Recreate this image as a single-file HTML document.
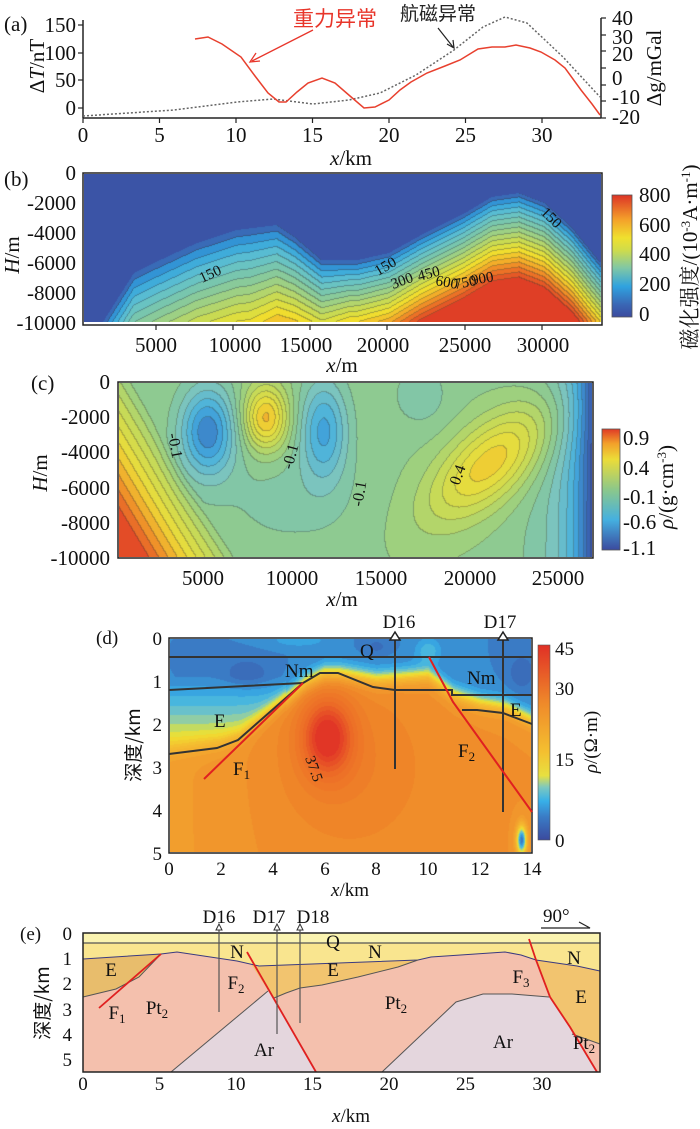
<!DOCTYPE html>
<html><head><meta charset="utf-8"><style>
body{margin:0;background:#fff;}
#w{position:relative;width:700px;height:1129px;overflow:hidden;background:#fff;}
canvas{position:absolute;}
svg{position:absolute;left:0;top:0;}
text{font-family:"Liberation Serif","Noto Serif CJK SC","Noto Sans CJK SC",serif;fill:#111;}
.t{font-size:21px;}
.s{font-size:19px;}
</style></head><body><div id="w">
<svg width="700" height="1129" viewBox="0 0 700 1129" id="sv">
<defs>
<linearGradient id="gb" x1="0" y1="1" x2="0" y2="0">
<stop offset="0" stop-color="#3b4a9e"/><stop offset="0.1" stop-color="#3a66b4"/><stop offset="0.25" stop-color="#2fa2df"/><stop offset="0.4" stop-color="#7fc7a6"/><stop offset="0.55" stop-color="#d0dc4a"/><stop offset="0.65" stop-color="#f0e02e"/><stop offset="0.8" stop-color="#f4a02a"/><stop offset="1" stop-color="#dc3326"/></linearGradient>
<linearGradient id="gc" x1="0" y1="1" x2="0" y2="0">
<stop offset="0" stop-color="#3b4a9e"/><stop offset="0.25" stop-color="#45b0e0"/><stop offset="0.5" stop-color="#8cc88a"/><stop offset="0.75" stop-color="#ecdc38"/><stop offset="0.88" stop-color="#f2a02a"/><stop offset="1" stop-color="#e03a26"/></linearGradient>
<linearGradient id="gd" x1="0" y1="1" x2="0" y2="0">
<stop offset="0" stop-color="#3b4a9e"/><stop offset="0.12" stop-color="#3a7cc6"/><stop offset="0.2" stop-color="#38b0e8"/><stop offset="0.27" stop-color="#7cc8c0"/><stop offset="0.33" stop-color="#e8e040"/><stop offset="0.45" stop-color="#f4c030"/><stop offset="0.7" stop-color="#ef8a2a"/><stop offset="1" stop-color="#e03026"/></linearGradient>
</defs>

<!-- Panel (a) -->
<text x="4" y="31" class="t">(a)</text>
<line x1="83" y1="20" x2="83" y2="118" stroke="#222" stroke-width="1.5"/>
<line x1="83" y1="118" x2="601" y2="118" stroke="#222" stroke-width="1.5"/>
<line x1="601" y1="18" x2="601" y2="118" stroke="#222" stroke-width="1.5"/>
<g stroke="#222" stroke-width="1.2">
<line x1="78" y1="25" x2="83" y2="25"/><line x1="78" y1="53" x2="83" y2="53"/><line x1="78" y1="80" x2="83" y2="80"/><line x1="78" y1="108" x2="83" y2="108"/>
<line x1="601" y1="18" x2="606" y2="18"/><line x1="601" y1="35" x2="606" y2="35"/><line x1="601" y1="51" x2="606" y2="51"/><line x1="601" y1="68" x2="606" y2="68"/><line x1="601" y1="85" x2="606" y2="85"/><line x1="601" y1="101" x2="606" y2="101"/><line x1="601" y1="118" x2="606" y2="118"/>
<line x1="83" y1="118" x2="83" y2="123"/><line x1="159.5" y1="118" x2="159.5" y2="123"/><line x1="236" y1="118" x2="236" y2="123"/><line x1="312.5" y1="118" x2="312.5" y2="123"/><line x1="389" y1="118" x2="389" y2="123"/><line x1="465.5" y1="118" x2="465.5" y2="123"/><line x1="542" y1="118" x2="542" y2="123"/>
</g>
<g class="t" text-anchor="end"><text x="76" y="32">150</text><text x="76" y="60">100</text><text x="76" y="87">50</text><text x="76" y="115">0</text></g>
<g class="t"><text x="612" y="25">40</text><text x="612" y="44">30</text><text x="612" y="61">20</text><text x="612" y="85">0</text><text x="612" y="104">-10</text><text x="612" y="124">-20</text></g>
<g class="t" text-anchor="middle"><text x="83" y="142">0</text><text x="159.5" y="142">5</text><text x="236" y="142">10</text><text x="312.5" y="142">15</text><text x="389" y="142">20</text><text x="465.5" y="142">25</text><text x="542" y="142">30</text>
<text x="351" y="165"><tspan font-style="italic">x</tspan>/km</text></g>
<text transform="translate(44,66) rotate(-90)" class="t" text-anchor="middle">Δ<tspan font-style="italic">T</tspan>/nT</text>
<text transform="translate(661,68) rotate(-90)" class="t" text-anchor="middle">Δg/mGal</text>
<polyline fill="none" stroke="#666" stroke-width="1.5" stroke-dasharray="2,2" points="83,116 174,110 237,102 273,99 313,104 349,100 380,93 416,75 454,50 483,27 505,17 527,23 563,57 600,97"/>
<polyline fill="none" stroke="#e8402e" stroke-width="1.5" points="195,39 208,37 222,44 241,57 255,76 268,93 279,102 286,102 297,92 308,83 322,78 335,83 350,96 364,108 375,107 389,100 400,90 411,82 427,73 445,66 460,60 478,49 492,47 505,47 516,45 530,48 541,52 555,60 565,68 581,90 592,104 600,115"/>
<text x="293" y="26" style="font-size:21px;fill:#e8352a;font-family:'Noto Sans CJK SC',sans-serif">重力异常</text>
<text x="400" y="20" style="font-size:19px;fill:#222;font-family:'Noto Sans CJK SC',sans-serif">航磁异常</text>
<line x1="313" y1="30" x2="252" y2="61" stroke="#e8352a" stroke-width="1.3"/>
<polyline points="256,53 250,62 260,61" fill="none" stroke="#e8352a" stroke-width="1.3"/>
<line x1="438" y1="28" x2="453" y2="47" stroke="#222" stroke-width="1.2"/>
<polyline points="447,44 454,48 453,40" fill="none" stroke="#222" stroke-width="1.2"/>

<!-- Panel (b) -->
<text x="4" y="186" class="t">(b)</text>
<rect x="83" y="173" width="519" height="152" fill="none" stroke="#222" stroke-width="1.5"/>
<g class="t" text-anchor="end"><text x="76" y="180">0</text><text x="76" y="210">-2000</text><text x="76" y="240">-4000</text><text x="76" y="270">-6000</text><text x="76" y="300">-8000</text><text x="76" y="330">-10000</text></g>
<g stroke="#222" stroke-width="1.2"><line x1="156" y1="325" x2="156" y2="330"/><line x1="233" y1="325" x2="233" y2="330"/><line x1="310" y1="325" x2="310" y2="330"/><line x1="387" y1="325" x2="387" y2="330"/><line x1="465" y1="325" x2="465" y2="330"/><line x1="542" y1="325" x2="542" y2="330"/></g>
<g class="t" text-anchor="middle"><text x="156" y="352">5000</text><text x="235" y="352">10000</text><text x="306" y="352">15000</text><text x="383" y="352">20000</text><text x="465" y="352">25000</text><text x="543" y="352">30000</text>
<text x="342" y="372"><tspan font-style="italic">x</tspan>/m</text></g>
<text transform="translate(19,255) rotate(-90)" class="t" text-anchor="middle"><tspan font-style="italic">H</tspan>/m</text>
<rect x="612" y="195" width="20" height="122" fill="url(#gb)" stroke="#555" stroke-width="0.8"/>
<g class="t"><text x="639" y="202">800</text><text x="639" y="232">600</text><text x="639" y="261">400</text><text x="639" y="291">200</text><text x="639" y="321">0</text></g>
<text transform="translate(697,257) rotate(-90)" text-anchor="middle" style="font-size:21px">磁化强度/(10<tspan dy="-7" font-size="13">-3</tspan><tspan dy="7">A·m</tspan><tspan dy="-7" font-size="13">-1</tspan><tspan dy="7">)</tspan></text>
<g style="font-size:15px" fill="#111">
<text transform="translate(202,283) rotate(-25)">150</text>
<text transform="translate(378,276) rotate(-30)">150</text>
<text transform="translate(393,289) rotate(-20)">300</text>
<text transform="translate(419,281) rotate(-15)">450</text>
<text transform="translate(435,285) rotate(10)">600</text>
<text transform="translate(455,289) rotate(-10)">750</text>
<text transform="translate(472,285) rotate(-10)">900</text>
<text transform="translate(540,213) rotate(45)">150</text></g>

<!-- Panel (c) -->
<text x="31" y="390" class="t">(c)</text>
<rect x="118" y="382" width="475" height="176" fill="none" stroke="#222" stroke-width="1.5"/>
<g class="t" text-anchor="end"><text x="110" y="389">0</text><text x="110" y="424">-2000</text><text x="110" y="459">-4000</text><text x="110" y="495">-6000</text><text x="110" y="530">-8000</text><text x="110" y="565">-10000</text></g>
<g class="t" text-anchor="middle"><text x="203" y="585">5000</text><text x="292" y="585">10000</text><text x="381" y="585">15000</text><text x="470" y="585">20000</text><text x="558" y="585">25000</text>
<text x="342" y="606"><tspan font-style="italic">x</tspan>/m</text></g>
<text transform="translate(47,473) rotate(-90)" class="t" text-anchor="middle"><tspan font-style="italic">H</tspan>/m</text>
<rect x="602" y="429" width="18" height="121" fill="url(#gc)" stroke="#555" stroke-width="0.8"/>
<g class="t"><text x="623" y="445">0.9</text><text x="623" y="475">0.4</text><text x="623" y="504">-0.1</text><text x="623" y="529">-0.6</text><text x="623" y="555">-1.1</text></g>
<text transform="translate(673,487) rotate(-90)" text-anchor="middle" class="t"><tspan font-style="italic">ρ</tspan>/(g·cm<tspan dy="-7" font-size="13">-3</tspan><tspan dy="7">)</tspan></text>
<g style="font-size:16px">
<text transform="translate(168,434) rotate(80)">-0.1</text>
<text transform="translate(292,470) rotate(-75)">-0.1</text>
<text transform="translate(362,507) rotate(-80)">-0.1</text>
<text transform="translate(459,486) rotate(-70)">0.4</text></g>

<!-- Panel (d) -->
<text x="96" y="644" class="s">(d)</text>
<rect x="169" y="638" width="363" height="215" fill="none" stroke="#222" stroke-width="1.5"/>
<g class="s" text-anchor="end"><text x="162" y="645">0</text><text x="162" y="688">1</text><text x="162" y="731">2</text><text x="162" y="774">3</text><text x="162" y="817">4</text><text x="162" y="860">5</text></g>
<g class="s" text-anchor="middle"><text x="169" y="875">0</text><text x="221" y="875">2</text><text x="273" y="875">4</text><text x="325" y="875">6</text><text x="376" y="875">8</text><text x="428" y="875">10</text><text x="480" y="875">12</text><text x="532" y="875">14</text>
<text x="350" y="896"><tspan font-style="italic">x</tspan>/km</text></g>
<text transform="translate(140,745) rotate(-90)" class="s" text-anchor="middle" style="font-family:'Noto Sans CJK SC',sans-serif">深度/km</text>
<rect x="538" y="645" width="12" height="195" fill="url(#gd)" stroke="#555" stroke-width="0.6"/>
<g class="s"><text x="555" y="655">45</text><text x="555" y="695">30</text><text x="555" y="766">15</text><text x="555" y="847">0</text></g>
<text transform="translate(597,742) rotate(-90)" text-anchor="middle" class="s"><tspan font-style="italic">ρ</tspan>/(Ω·m)</text>
<g fill="none" stroke="#333" stroke-width="2">
<line x1="169" y1="657" x2="532" y2="657"/>
<polyline points="169,690 303,683 320,673 338,673 373,687 395,690 452,690 452,695 532,695"/>
<polyline points="169,754 217,748 238,740 303,683"/>
<polyline points="462,710 477,710 503,713 532,724"/>
<line x1="395" y1="640" x2="395" y2="769"/><line x1="503" y1="640" x2="503" y2="812"/>
</g>
<polygon points="395,632 390,640 400,640" fill="#fff" stroke="#222" stroke-width="1.5"/>
<polygon points="503,632 498,640 508,640" fill="#fff" stroke="#222" stroke-width="1.5"/>
<g fill="none" stroke="#e02020" stroke-width="2"><line x1="204" y1="779" x2="303" y2="683"/><polyline points="429,657 453,702 532,812"/></g>
<g class="s"><text x="399" y="628" text-anchor="middle">D16</text><text x="500" y="628" text-anchor="middle">D17</text>
<text x="360" y="657">Q</text><text x="285" y="677">Nm</text><text x="467" y="684">Nm</text><text x="214" y="727">E</text><text x="510" y="716">E</text>
<text x="233" y="775">F<tspan dy="4" font-size="13">1</tspan></text><text x="458" y="757">F<tspan dy="4" font-size="13">2</tspan></text></g>
<text transform="translate(305,758) rotate(70)" style="font-size:15px">37.5</text>

<!-- Panel (e) -->
<text x="20" y="940" class="s">(e)</text>
<rect x="83" y="933" width="517" height="139" fill="#f4c0ad"/>
<rect x="83" y="933" width="517" height="10" fill="#faf3b0"/>
<polygon points="83,943 600,943 600,971 577,966 536,960 521,955 505,952 431,957 418,960 259,966 237,961 177,952 161,954 83,959" fill="#f9e58f"/>
<polygon points="83,959 161,954 139,977 116,989 83,997" fill="#e8bd6c"/>
<polygon points="251,964 259,966 418,960 398,967 358,977 322,985 300,988 286,993 274,998 273,998" fill="#f2c46f"/>
<polygon points="536,960 577,966 600,971 600,1044 572,1034 570,1027 554,1003 550,997" fill="#f2c46f"/>
<polygon points="171,1072 268,991 316,1072" fill="#e4d6dd"/>
<polygon points="382,1072 456,1002 483,994 512,994 549,997 554,1003 570,1027 597,1072" fill="#e4d6dd"/>
<line x1="83" y1="943" x2="600" y2="943" stroke="#555" stroke-width="1.2"/>
<polyline fill="none" stroke="#3a3a80" stroke-width="1" points="83,959 161,954 177,952 237,961 259,966 418,960 431,957 505,952 521,955 536,960 577,966 600,971"/>
<g fill="none" stroke="#555" stroke-width="1"><polyline points="83,997 116,989 139,977 161,954"/><polyline points="274,998 286,993 300,988 322,985 358,977 398,967 418,960"/><polyline points="171,1072 268,991"/><polyline points="382,1072 456,1002 483,994 512,994 549,997"/><polyline points="572,1034 600,1044"/></g>
<g fill="none" stroke="#e02020" stroke-width="1.8"><line x1="99" y1="1008" x2="161" y2="954"/><line x1="247" y1="952" x2="316" y2="1072"/><polyline points="529,939 536,960 550,997 554,1003 570,1027 597,1072"/></g>
<rect x="83" y="933" width="517" height="139" fill="none" stroke="#222" stroke-width="1.5"/>
<g stroke="#555" stroke-width="1.2"><line x1="219" y1="929" x2="219" y2="1012"/><line x1="277" y1="929" x2="277" y2="1034"/><line x1="300" y1="929" x2="300" y2="1023"/></g>
<g fill="#fff" stroke="#333" stroke-width="1"><polygon points="219,924 216,930 222,930"/><polygon points="277,924 274,930 280,930"/><polygon points="300,924 297,930 303,930"/></g>
<g class="s" text-anchor="middle"><text x="219" y="923">D16</text><text x="269" y="923">D17</text><text x="313" y="923">D18</text></g>
<text x="543" y="922" class="s">90°</text>
<polyline points="541,928 590,928 579,922" fill="none" stroke="#222" stroke-width="1.2"/>
<g class="s" text-anchor="end"><text x="72" y="940">0</text><text x="72" y="965">1</text><text x="72" y="990">2</text><text x="72" y="1016">3</text><text x="72" y="1041">4</text><text x="72" y="1066">5</text></g>
<g class="s" text-anchor="middle"><text x="83" y="1090">0</text><text x="159.5" y="1090">5</text><text x="236" y="1090">10</text><text x="312.5" y="1090">15</text><text x="389" y="1090">20</text><text x="465.5" y="1090">25</text><text x="542" y="1090">30</text>
<text x="351" y="1122"><tspan font-style="italic">x</tspan>/km</text></g>
<text transform="translate(49,1003) rotate(-90)" class="s" text-anchor="middle" style="font-family:'Noto Sans CJK SC',sans-serif">深度/km</text>
<g class="s" text-anchor="middle">
<text x="111" y="976">E</text><text x="237" y="958">N</text><text x="333" y="948">Q</text><text x="375" y="958">N</text><text x="333" y="976">E</text><text x="574" y="964">N</text>
<text x="236" y="989">F<tspan dy="4" font-size="13">2</tspan></text>
<text x="157" y="1014">Pt<tspan dy="4" font-size="13">2</tspan></text>
<text x="117" y="1019">F<tspan dy="4" font-size="13">1</tspan></text>
<text x="264" y="1056">Ar</text>
<text x="396" y="1009">Pt<tspan dy="4" font-size="13">2</tspan></text>
<text x="521" y="983">F<tspan dy="4" font-size="13">3</tspan></text>
<text x="503" y="1048">Ar</text>
<text x="581" y="1003">E</text>
<text x="584" y="1049">Pt<tspan dy="4" font-size="13">2</tspan></text>
</g>
</svg>
</div>
<script>
function hx(h){return [parseInt(h.substr(1,2),16),parseInt(h.substr(3,2),16),parseInt(h.substr(5,2),16)];}
function mk(st){return st.map(s=>[s[0],hx(s[1])]);}
function cm(st,t){t=Math.max(0,Math.min(1,t));for(let i=1;i<st.length;i++){if(t<=st[i][0]){const a=st[i-1],b=st[i];const f=(t-a[0])/(b[0]-a[0]||1);return [0,1,2].map(k=>a[1][k]+(b[1][k]-a[1][k])*f);}}return st[st.length-1][1];}
function interp(pts,x){if(x<=pts[0][0])return pts[0][1];for(let i=1;i<pts.length;i++){if(x<=pts[i][0]){const a=pts[i-1],b=pts[i];return a[1]+(b[1]-a[1])*(x-a[0])/(b[0]-a[0]);}}return pts[pts.length-1][1];}
function field(x0,y0,w,h,f,st,L,lineA){
 const c=document.createElement('canvas');c.width=w;c.height=h;c.style.left=x0+'px';c.style.top=y0+'px';
 const w0=document.getElementById('w');w0.insertBefore(c,document.getElementById('sv'));
 const ctx=c.getContext('2d');const img=ctx.createImageData(w,h);const q=new Int16Array(w*h);
 for(let j=0;j<h;j++)for(let i=0;i<w;i++){const v=f(x0+i+0.5,y0+j+0.5);q[j*w+i]=Math.max(0,Math.min(L-1,Math.floor(v*L)));}
 for(let j=0;j<h;j++)for(let i=0;i<w;i++){const k=j*w+i;let col=cm(st,(q[k]+0.5)/L);
  if(lineA>0&&((i<w-1&&q[k]!=q[k+1])||(j<h-1&&q[k]!=q[k+w]))&&q[k]>0){col=col.map(c=>c*(1-lineA)+50*lineA);}
  img.data[k*4]=col[0];img.data[k*4+1]=col[1];img.data[k*4+2]=col[2];img.data[k*4+3]=255;}
 ctx.putImageData(img,0,0);}
function g2(x,y,cx,cy,sx,sy){const a=(x-cx)/sx,b=(y-cy)/sy;return Math.exp(-(a*a+b*b));}
// panel b
const stB=mk([[0,'#3b4a9e'],[0.07,'#3a64b2'],[0.15,'#2fa2df'],[0.25,'#5ec0d0'],[0.37,'#80c8a4'],[0.47,'#a6d27a'],[0.57,'#d0dc4a'],[0.65,'#f0e02e'],[0.75,'#f4b52a'],[0.85,'#ee7a26'],[1,'#dc3326']]);
const TB=[[83,420],[103,322],[134,273],[156,262],[197,243],[237,230],[277,225],[295,237],[322,260],[358,260],[389,253],[425,233],[465,213],[492,197],[519,193],[545,203],[572,227],[601,263]];
const SB=[[83,160],[250,160],[350,100],[420,95],[601,95]];
field(84,174,517,148,(x,y)=>{const T=interp(TB,x);const d=y-T;if(d<0)return -0.1;return 0.06+d/interp(SB,x);},stB,19,0.35);
// panel c
const stC=mk([[0,'#3b4a9e'],[0.15,'#3a7cc6'],[0.25,'#45b0e0'],[0.37,'#7ac4c0'],[0.45,'#86c79a'],[0.52,'#9ccf80'],[0.62,'#c6da58'],[0.75,'#ecdc38'],[0.85,'#f2a42a'],[1,'#e03a26']]);
const ux=1/Math.sqrt(1+0.81),uy=-0.9/Math.sqrt(1+0.81);
field(119,383,473,174,(x,y)=>{let v=-0.12;const Lc=(y-382)*0.6-(x-118);v+=0.0105*Math.max(0,Lc+14);
 v+=-0.65*g2(x,y,208,432,28,45)+0.65*g2(x,y,266,418,22,32)-0.5*g2(x,y,324,430,24,50)-0.15*g2(x,y,420,395,28,32)-0.12*g2(x,y,290,500,70,50);
 const dx=x-492,dy=y-462;const a=(dx*ux+dy*uy)/78,b=(-dx*uy+dy*ux)/36;v+=0.6*Math.exp(-(a*a+b*b));
 v+=-0.95*Math.exp(-(593-x)/28);return (v+1.1)/2;},stC,20,0.3);
// panel d
const stD=mk([[0,'#3b4a9e'],[0.12,'#3a7cc6'],[0.2,'#38b0e8'],[0.27,'#7cc8c0'],[0.32,'#c8dc5a'],[0.36,'#f0e030'],[0.45,'#f4c030'],[0.6,'#f3a22e'],[0.72,'#ef8428'],[0.85,'#ec6a26'],[1,'#e03026']]);
const BD=[[0,2.6],[2,2.45],[2.7,2.3],[5.3,1.0],[6,0.8],[6.6,0.8],[8,0.95],[10,0.85],[11,1.3],[12,1.5],[13,1.6],[14,1.9]];
field(170,639,361,213,(x,y)=>{const X=(x-169)/25.93,D=(y-638)/43;const B=interp(BD,X);
 let low=6+3*g2(X,D,5,0.05,1,0.15)+4*g2(X,D,10,0.3,0.5,0.3)-3*g2(X,D,3,0.8,0.8,0.3)-3*g2(X,D,13.6,0.8,0.5,0.4)-2*g2(X,D,8,0.2,0.5,0.2);
 if(X<4.5)low+=10*Math.max(0,Math.min(1,(D-0.9)/1.5));
 let high=28+2*Math.min(1,X/4)+14*g2(X,D,6.1,2.3,1.0,0.9)+3*g2(X,D,7,3,3,2)-25*g2(X,D,13.6,4.7,0.2,0.35);
 const s=1/(1+Math.exp(-(D-B)/0.12));return (low*(1-s)+high*s)/45;},stD,30,0);
</script>
</body></html>
